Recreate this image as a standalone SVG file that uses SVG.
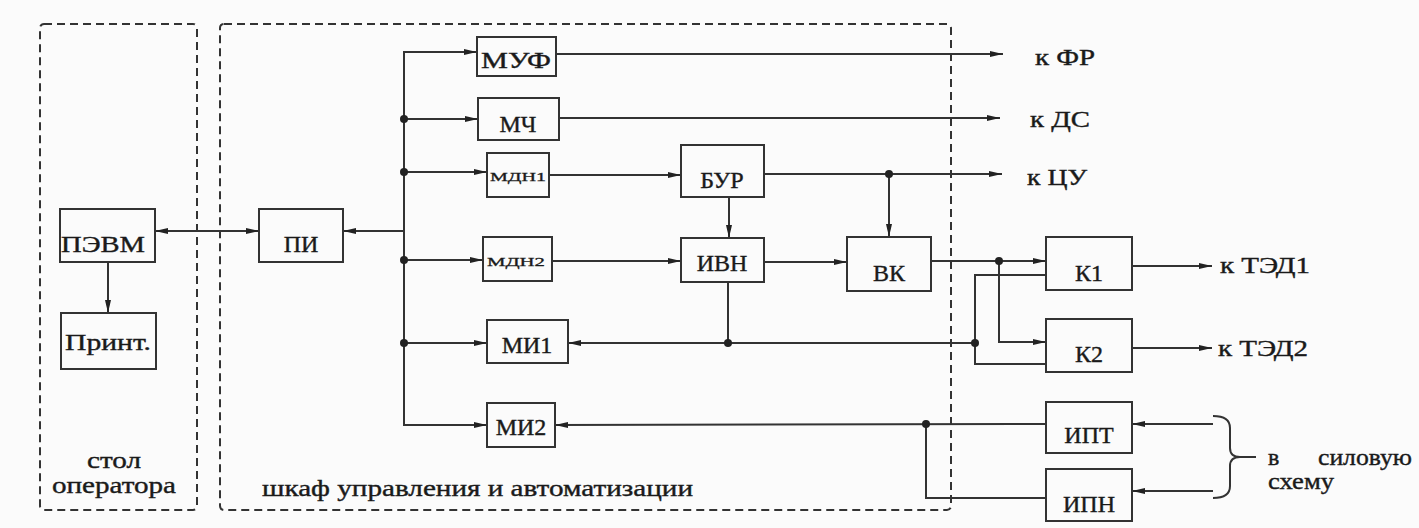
<svg xmlns="http://www.w3.org/2000/svg" width="1419" height="528" viewBox="0 0 1419 528">
<style>
.bg{fill:#fbfbfb}
.box{fill:none;stroke:#333;stroke-width:2}
.dash{fill:none;stroke:#333;stroke-width:2;stroke-dasharray:8 5}
.ln{fill:none;stroke:#333;stroke-width:2}
.t{font-family:"Liberation Serif","Times New Roman",serif;font-size:24px;fill:#1a1a1a;text-anchor:middle;stroke:#1a1a1a;stroke-width:0.4}
.s{font-family:"Liberation Serif","Times New Roman",serif;font-size:13px;fill:#1a1a1a;text-anchor:middle;stroke:#1a1a1a;stroke-width:0.3}
.l{font-family:"Liberation Serif","Times New Roman",serif;font-size:24px;fill:#1a1a1a;stroke:#1a1a1a;stroke-width:0.4}
.dot{fill:#222}
</style>
<defs>
<marker id="a" markerUnits="userSpaceOnUse" markerWidth="14" markerHeight="8" refX="13" refY="4" orient="auto-start-reverse">
<path d="M0,1 L13,4 L0,7 z" fill="#222"/>
</marker>
</defs>
<rect class="bg" x="0" y="0" width="1419" height="528"/>

<g id="frames">
<rect class="dash" x="40" y="24" width="157" height="486" rx="4"/>
<rect class="dash" x="220" y="24" width="731" height="486" rx="4"/>
<text class="l" x="114" y="468" text-anchor="middle" textLength="54" lengthAdjust="spacingAndGlyphs">стол</text>
<text class="l" x="114" y="493" text-anchor="middle" textLength="124" lengthAdjust="spacingAndGlyphs">оператора</text>
<text class="l" x="262" y="496" textLength="431" lengthAdjust="spacingAndGlyphs">шкаф управления и автоматизации</text>
</g>

<g id="connectors">
<polyline class="ln" points="477,52 404,52 404,425 487,425"/>
<line class="ln" x1="155" y1="231" x2="259" y2="231" marker-start="url(#a)" marker-end="url(#a)"/>
<line class="ln" x1="404" y1="231" x2="343" y2="231" marker-end="url(#a)"/>
<line class="ln" x1="404" y1="52" x2="477" y2="52" marker-end="url(#a)"/>
<line class="ln" x1="404" y1="425" x2="487" y2="425" marker-end="url(#a)"/>
<line class="ln" x1="404" y1="119" x2="478" y2="119" marker-end="url(#a)"/>
<line class="ln" x1="404" y1="172" x2="487" y2="172" marker-end="url(#a)"/>
<line class="ln" x1="404" y1="260" x2="483" y2="260" marker-end="url(#a)"/>
<line class="ln" x1="404" y1="343" x2="487" y2="343" marker-end="url(#a)"/>
<line class="ln" x1="108" y1="262" x2="108" y2="313" marker-end="url(#a)"/>
<line class="ln" x1="556" y1="54" x2="1003" y2="54" marker-end="url(#a)"/>
<line class="ln" x1="559" y1="118" x2="1000" y2="118" marker-end="url(#a)"/>
<line class="ln" x1="549" y1="175" x2="681" y2="175" marker-end="url(#a)"/>
<line class="ln" x1="764" y1="174" x2="1002" y2="174" marker-end="url(#a)"/>
<line class="ln" x1="889" y1="174" x2="889" y2="237" marker-end="url(#a)"/>
<line class="ln" x1="729" y1="197" x2="729" y2="238" marker-end="url(#a)"/>
<line class="ln" x1="552" y1="261" x2="681" y2="261" marker-end="url(#a)"/>
<line class="ln" x1="764" y1="262" x2="847" y2="262" marker-end="url(#a)"/>
<line class="ln" x1="728" y1="282" x2="728" y2="343"/>
<line class="ln" x1="975" y1="343" x2="568" y2="343" marker-end="url(#a)"/>
<line class="ln" x1="931" y1="261" x2="1046" y2="261" marker-end="url(#a)"/>
<polyline class="ln" points="999,261 999,342 1046,342" marker-end="url(#a)"/>
<polyline class="ln" points="1046,275 975,275 975,364 1046,364"/>
<line class="ln" x1="1132" y1="266" x2="1212" y2="266" marker-end="url(#a)"/>
<line class="ln" x1="1132" y1="348" x2="1212" y2="348" marker-end="url(#a)"/>
<line class="ln" x1="1213" y1="424" x2="1132" y2="424" marker-end="url(#a)"/>
<line class="ln" x1="1046" y1="424" x2="555" y2="425" marker-end="url(#a)"/>
<polyline class="ln" points="926,424 926,498 1046,498"/>
<line class="ln" x1="1213" y1="491" x2="1132" y2="491" marker-end="url(#a)"/>
<path class="ln" d="M1213,416 Q1230,416 1230,428 L1230,448 Q1230,457 1240,457 Q1230,457 1230,466 L1230,486 Q1230,498 1213,498"/>
<line class="ln" x1="1240" y1="457" x2="1256" y2="457"/>
<circle class="dot" cx="404" cy="119" r="4"/>
<circle class="dot" cx="404" cy="172" r="4"/>
<circle class="dot" cx="404" cy="260" r="4"/>
<circle class="dot" cx="404" cy="343" r="4"/>
<circle class="dot" cx="889" cy="174" r="4"/>
<circle class="dot" cx="728" cy="343" r="4"/>
<circle class="dot" cx="975" cy="343" r="4"/>
<circle class="dot" cx="999" cy="261" r="4"/>
<circle class="dot" cx="926" cy="424" r="4"/>
</g>

<g id="labels">
<text class="l" x="1035" y="65" textLength="60" lengthAdjust="spacingAndGlyphs">к ФР</text>
<text class="l" x="1030" y="127" textLength="60" lengthAdjust="spacingAndGlyphs">к ДС</text>
<text class="l" x="1027" y="185" textLength="60" lengthAdjust="spacingAndGlyphs">к ЦУ</text>
<text class="l" x="1220" y="273" textLength="90" lengthAdjust="spacingAndGlyphs">к ТЭД1</text>
<text class="l" x="1218" y="356" textLength="90" lengthAdjust="spacingAndGlyphs">к ТЭД2</text>
<text class="l" x="1268" y="465">в</text>
<text class="l" x="1318" y="465" textLength="94" lengthAdjust="spacingAndGlyphs">силовую</text>
<text class="l" x="1268" y="489" textLength="66" lengthAdjust="spacingAndGlyphs">схему</text>
</g>

<g id="n-pevm"><rect class="box" x="60" y="209" width="95" height="53"/><text class="t" x="103" y="252" textLength="84" lengthAdjust="spacingAndGlyphs">ПЭВМ</text></g>
<g id="n-print"><rect class="box" x="61" y="313" width="95" height="56"/><text class="t" x="108" y="350" textLength="86" lengthAdjust="spacingAndGlyphs">Принт.</text></g>
<g id="n-pi"><rect class="box" x="259" y="209" width="84" height="53"/><text class="t" x="301" y="252">ПИ</text></g>
<g id="n-muf"><rect class="box" x="477" y="37" width="79" height="39"/><text class="t" x="516" y="68" textLength="70" lengthAdjust="spacingAndGlyphs">МУФ</text></g>
<g id="n-mch"><rect class="box" x="478" y="98" width="81" height="42"/><text class="t" x="518" y="132">МЧ</text></g>
<g id="n-mdn1"><rect class="box" x="487" y="153" width="62" height="44"/><text class="s" x="518" y="181" textLength="56" lengthAdjust="spacingAndGlyphs">МДН1</text></g>
<g id="n-mdn2"><rect class="box" x="483" y="237" width="69" height="44"/><text class="s" x="516" y="266" textLength="58" lengthAdjust="spacingAndGlyphs">МДН2</text></g>
<g id="n-bur"><rect class="box" x="681" y="145" width="83" height="52"/><text class="t" x="722" y="188">БУР</text></g>
<g id="n-ivn"><rect class="box" x="681" y="238" width="83" height="44"/><text class="t" x="722" y="271">ИВН</text></g>
<g id="n-vk"><rect class="box" x="847" y="237" width="84" height="54"/><text class="t" x="889" y="281">ВК</text></g>
<g id="n-mi1"><rect class="box" x="487" y="320" width="81" height="43"/><text class="t" x="527" y="353">МИ1</text></g>
<g id="n-mi2"><rect class="box" x="487" y="403" width="68" height="44"/><text class="t" x="521" y="435">МИ2</text></g>
<g id="n-k1"><rect class="box" x="1046" y="237" width="86" height="53"/><text class="t" x="1089" y="281">К1</text></g>
<g id="n-k2"><rect class="box" x="1046" y="319" width="86" height="53"/><text class="t" x="1089" y="362">К2</text></g>
<g id="n-ipt"><rect class="box" x="1046" y="402" width="86" height="51"/><text class="t" x="1089" y="443">ИПТ</text></g>
<g id="n-ipn"><rect class="box" x="1046" y="469" width="86" height="52"/><text class="t" x="1089" y="512">ИПН</text></g>
</svg>
